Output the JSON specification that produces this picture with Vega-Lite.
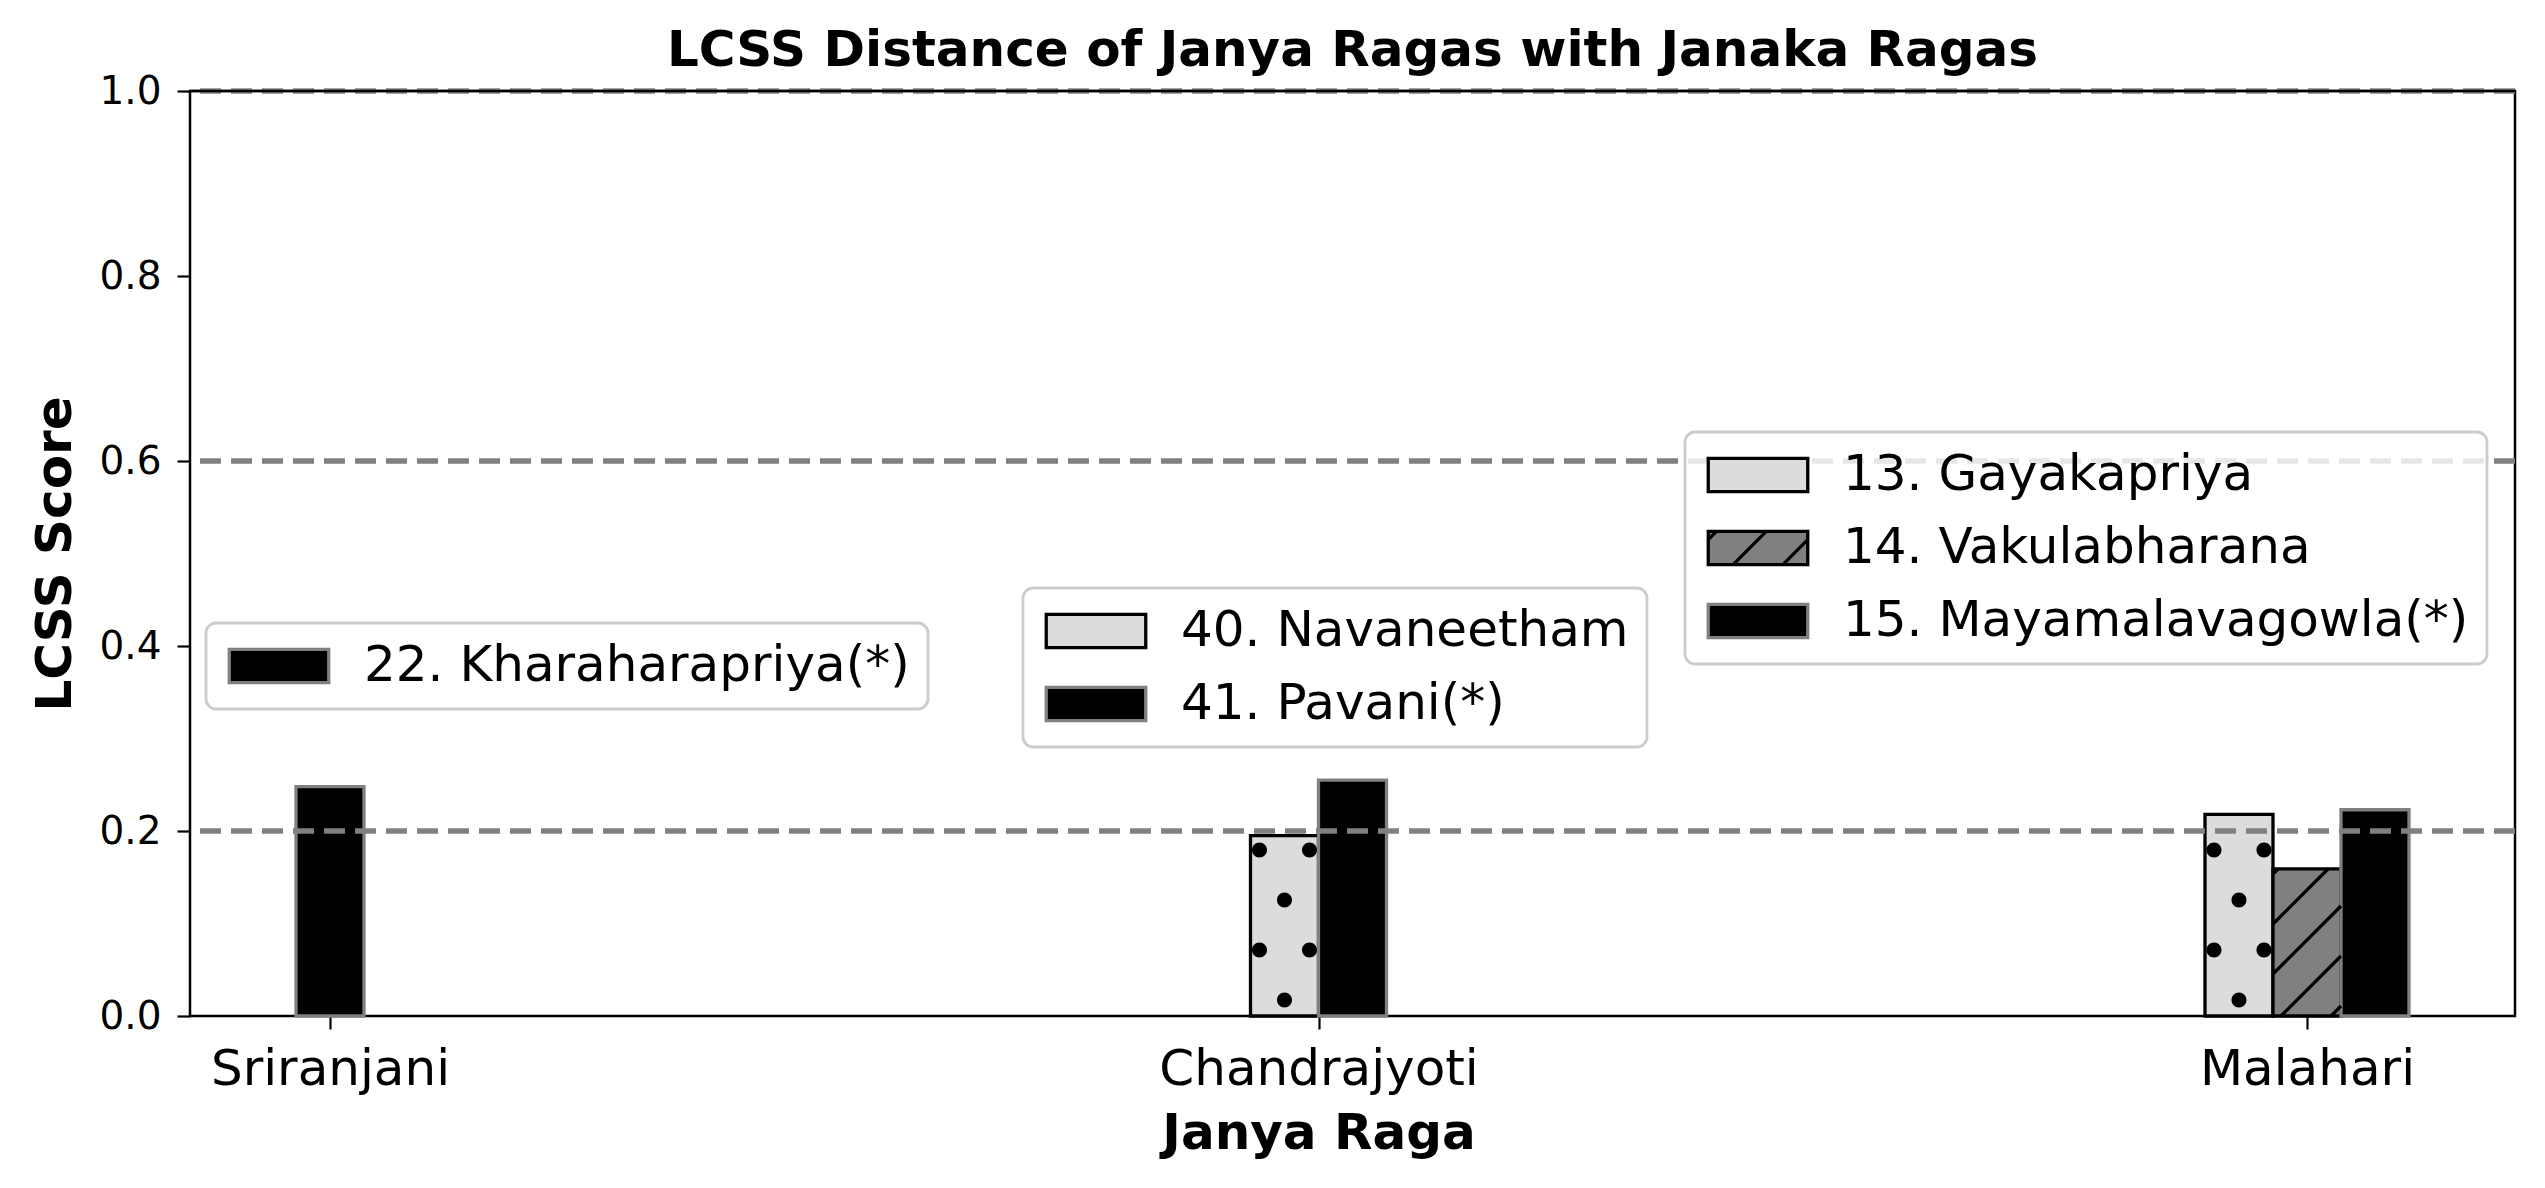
{
  "$schema": "https://vega.github.io/schema/vega-lite/v6.json",
  "width": 2325,
  "height": 925,
  "autosize": {"type": "none"},
  "padding": {"left": 190, "top": 91, "right": 30, "bottom": 172},
  "background": "white",
  "config": {
    "font": "DejaVu Sans",
    "view": {"stroke": "black", "strokeWidth": 2.5},
    "axis": {"grid": false, "domain": false, "labelColor": "black", "titleColor": "black", "tickColor": "black", "labelFont": "DejaVu Sans", "titleFont": "DejaVu Sans", "labelLimit": 1000},
    "legend": {
      "labelFont": "DejaVu Sans",
      "labelFontSize": 50,
      "labelColor": "black",
      "labelLimit": 2000,
      "symbolType": "M-3,-1H3V1H-3Z",
      "symbolSize": 1100,
      "symbolStrokeWidth": 3.3,
      "symbolOffset": 30,
      "labelOffset": 60,
      "rowPadding": 23,
      "padding": 18,
      "fillColor": "rgba(255,255,255,0.8)",
      "strokeColor": "#cccccc",
      "strokeWidth": 2.8,
      "cornerRadius": 10
    }
  },
  "title": {"text": "LCSS Distance of Janya Ragas with Janaka Ragas", "fontSize": 50, "fontWeight": "bold", "font": "DejaVu Sans", "color": "black", "offset": 12, "dy": 16, "anchor": "middle"},
  "datasets": {
    "scores": [
      {"raga": "Sriranjani", "janaka": "22. Kharaharapriya(*)", "score": 0.248},
      {"raga": "Chandrajyoti", "janaka": "40. Navaneetham", "score": 0.195},
      {"raga": "Chandrajyoti", "janaka": "41. Pavani(*)", "score": 0.255},
      {"raga": "Malahari", "janaka": "13. Gayakapriya", "score": 0.218},
      {"raga": "Malahari", "janaka": "14. Vakulabharana", "score": 0.159},
      {"raga": "Malahari", "janaka": "15. Mayamalavagowla(*)", "score": 0.223}
    ],
    "thresholds": [{"level": 0.2}, {"level": 0.6}, {"level": 1.0}]
  },
  "layer": [
    {
      "data": {"name": "scores"},
      "transform": [{"filter": "datum.raga === 'Sriranjani'"}],
      "encoding": {
        "x": {"field": "raga", "type": "nominal", "title": "Janya Raga", "scale": {"type": "point", "padding": 0, "domain": ["Sriranjani", "Chandrajyoti", "Malahari"], "range": [140, 2117]}, "axis": {"labelAngle": 0, "labelFontSize": 50, "tickSize": 13, "tickWidth": 2.2, "labelPadding": 15, "titleFontSize": 50, "titleFontWeight": "bold", "titlePadding": 14}},
        "xOffset": {"field": "janaka", "type": "nominal", "scale": {"range": [-34, 34], "paddingInner": 0, "paddingOuter": 0}}
      },
      "layer": [
        {
          "mark": {"type": "bar", "strokeWidth": 3.3},
          "encoding": {
            "y": {"field": "score", "type": "quantitative", "title": "LCSS Score", "scale": {"domain": [0, 1], "nice": false}, "axis": {"values": [0, 0.2, 0.4, 0.6, 0.8, 1], "format": ".1f", "labelFontSize": 39, "tickSize": 13, "tickWidth": 2.2, "labelPadding": 16, "titleFontSize": 50, "titleFontWeight": "bold", "titlePadding": 18}},
            "fill": {"field": "janaka", "type": "nominal", "scale": {"domain": ["22. Kharaharapriya(*)"], "range": ["#000000"]}, "legend": {"title": null, "orient": "none", "legendX": 16, "legendY": 532}},
            "stroke": {"field": "janaka", "type": "nominal", "scale": {"domain": ["22. Kharaharapriya(*)"], "range": ["#808080"]}, "legend": {"title": null, "orient": "none", "legendX": 16, "legendY": 532}}
          }
        }
      ]
    },
    {
      "data": {"name": "scores"},
      "transform": [{"filter": "datum.raga === 'Chandrajyoti'"}],
      "encoding": {
        "x": {"field": "raga", "type": "nominal", "title": "Janya Raga", "scale": {"type": "point", "padding": 0, "domain": ["Sriranjani", "Chandrajyoti", "Malahari"], "range": [140, 2117]}, "axis": {"labelAngle": 0, "labelFontSize": 50, "tickSize": 13, "tickWidth": 2.2, "labelPadding": 15, "titleFontSize": 50, "titleFontWeight": "bold", "titlePadding": 14}},
        "xOffset": {"field": "janaka", "type": "nominal", "scale": {"range": [-68, 68], "paddingInner": 0, "paddingOuter": 0}}
      },
      "layer": [
        {
          "mark": {"type": "bar", "strokeWidth": 3.3},
          "encoding": {
            "y": {"field": "score", "type": "quantitative", "title": "LCSS Score", "scale": {"domain": [0, 1], "nice": false}, "axis": {"values": [0, 0.2, 0.4, 0.6, 0.8, 1], "format": ".1f", "labelFontSize": 39, "tickSize": 13, "tickWidth": 2.2, "labelPadding": 16, "titleFontSize": 50, "titleFontWeight": "bold", "titlePadding": 18}},
            "fill": {"field": "janaka", "type": "nominal", "scale": {"domain": ["40. Navaneetham", "41. Pavani(*)"], "range": ["#dcdcdc", "#000000"]}, "legend": {"title": null, "orient": "none", "legendX": 833, "legendY": 497}},
            "stroke": {"field": "janaka", "type": "nominal", "scale": {"domain": ["40. Navaneetham", "41. Pavani(*)"], "range": ["#000000", "#808080"]}, "legend": {"title": null, "orient": "none", "legendX": 833, "legendY": 497}}
          }
        },
        {
          "transform": [{"filter": "datum.janaka === '40. Navaneetham'"}],
          "mark": {"type": "point", "shape": "M-32.5,-166a7.5,7.5 0 1,0 15,0a7.5,7.5 0 1,0 -15,0M17.5,-166a7.5,7.5 0 1,0 15,0a7.5,7.5 0 1,0 -15,0M-7.5,-116a7.5,7.5 0 1,0 15,0a7.5,7.5 0 1,0 -15,0M-32.5,-66a7.5,7.5 0 1,0 15,0a7.5,7.5 0 1,0 -15,0M17.5,-66a7.5,7.5 0 1,0 15,0a7.5,7.5 0 1,0 -15,0M-7.5,-16a7.5,7.5 0 1,0 15,0a7.5,7.5 0 1,0 -15,0", "size": 4, "filled": true, "color": "black", "opacity": 1, "strokeWidth": 0},
          "encoding": {"y": {"datum": 0, "type": "quantitative"}}
        }
      ]
    },
    {
      "data": {"name": "scores"},
      "transform": [{"filter": "datum.raga === 'Malahari'"}],
      "encoding": {
        "x": {"field": "raga", "type": "nominal", "title": "Janya Raga", "scale": {"type": "point", "padding": 0, "domain": ["Sriranjani", "Chandrajyoti", "Malahari"], "range": [140, 2117]}, "axis": {"labelAngle": 0, "labelFontSize": 50, "tickSize": 13, "tickWidth": 2.2, "labelPadding": 15, "titleFontSize": 50, "titleFontWeight": "bold", "titlePadding": 14}},
        "xOffset": {"field": "janaka", "type": "nominal", "scale": {"range": [-102, 102], "paddingInner": 0, "paddingOuter": 0}}
      },
      "layer": [
        {
          "mark": {"type": "bar", "strokeWidth": 3.3},
          "encoding": {
            "y": {"field": "score", "type": "quantitative", "title": "LCSS Score", "scale": {"domain": [0, 1], "nice": false}, "axis": {"values": [0, 0.2, 0.4, 0.6, 0.8, 1], "format": ".1f", "labelFontSize": 39, "tickSize": 13, "tickWidth": 2.2, "labelPadding": 16, "titleFontSize": 50, "titleFontWeight": "bold", "titlePadding": 18}},
            "fill": {"field": "janaka", "type": "nominal", "scale": {"domain": ["13. Gayakapriya", "14. Vakulabharana", "15. Mayamalavagowla(*)"], "range": ["#dcdcdc", "#808080", "#000000"]}, "legend": {"title": null, "orient": "none", "legendX": 1495, "legendY": 341, "symbolType": {"expr": "datum.value === '14. Vakulabharana' ? 'M-3,-1H3V1H-3ZM-3,-0.5L-2.5,-1M-1.5,1L0.5,-1M1.5,1L3,-0.5' : 'M-3,-1H3V1H-3Z'"}}},
            "stroke": {"field": "janaka", "type": "nominal", "scale": {"domain": ["13. Gayakapriya", "14. Vakulabharana", "15. Mayamalavagowla(*)"], "range": ["#000000", "#000000", "#808080"]}, "legend": {"title": null, "orient": "none", "legendX": 1495, "legendY": 341, "symbolType": {"expr": "datum.value === '14. Vakulabharana' ? 'M-3,-1H3V1H-3ZM-3,-0.5L-2.5,-1M-1.5,1L0.5,-1M1.5,1L3,-0.5' : 'M-3,-1H3V1H-3Z'"}}}
          }
        },
        {
          "transform": [{"filter": "datum.janaka === '13. Gayakapriya'"}],
          "mark": {"type": "point", "shape": "M-32.5,-166a7.5,7.5 0 1,0 15,0a7.5,7.5 0 1,0 -15,0M17.5,-166a7.5,7.5 0 1,0 15,0a7.5,7.5 0 1,0 -15,0M-7.5,-116a7.5,7.5 0 1,0 15,0a7.5,7.5 0 1,0 -15,0M-32.5,-66a7.5,7.5 0 1,0 15,0a7.5,7.5 0 1,0 -15,0M17.5,-66a7.5,7.5 0 1,0 15,0a7.5,7.5 0 1,0 -15,0M-7.5,-16a7.5,7.5 0 1,0 15,0a7.5,7.5 0 1,0 -15,0", "size": 4, "filled": true, "color": "black", "opacity": 1, "strokeWidth": 0},
          "encoding": {"y": {"datum": 0, "type": "quantitative"}}
        },
        {
          "transform": [{"filter": "datum.janaka === '14. Vakulabharana'"}],
          "mark": {"type": "point", "shape": "M-34,-142L-29,-147M-34,-92L21,-147M-34,-42L34,-110M-26,0L34,-60M24,0L34,-10", "size": 4, "filled": false, "color": "black", "opacity": 1, "strokeWidth": 3.3},
          "encoding": {"y": {"datum": 0, "type": "quantitative"}}
        }
      ]
    },
    {
      "data": {"name": "thresholds"},
      "mark": {"type": "rule", "color": "#808080", "strokeWidth": 5.5, "strokeDash": [21, 10]},
      "encoding": {"y": {"field": "level", "type": "quantitative"}}
    },
    {
      "data": {"values": [{}]},
      "mark": {"type": "rule", "color": "black", "strokeWidth": 2.5},
      "encoding": {"y": {"datum": 1, "type": "quantitative"}}
    }
  ],
  "resolve": {
    "scale": {"fill": "independent", "stroke": "independent", "xOffset": "independent"},
    "legend": {"fill": "independent", "stroke": "independent"}
  }
}
